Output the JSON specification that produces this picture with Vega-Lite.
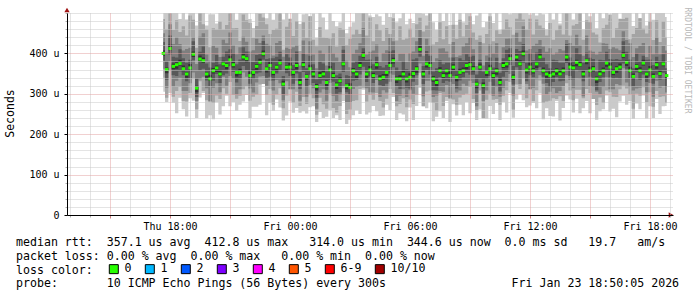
{
"$schema":"https://vega.github.io/schema/vega-lite/v6.json",
"width":606,"height":202,
"autosize":{"type":"none"},
"padding":{"left":67,"top":13,"right":24,"bottom":82},
"background":"#ffffff",
"config":{"view":{"stroke":null},"font":"DejaVu Sans Mono"},
"title":{"text":["median rtt:\u00a0\u00a0357.1 us avg\u00a0\u00a0412.8 us max\u00a0\u00a0\u00a0314.0 us min\u00a0\u00a0344.6 us now\u00a0\u00a00.0 ms sd\u00a0\u00a0\u00a019.7\u00a0\u00a0\u00a0am/s","packet loss: 0.00 % avg\u00a0\u00a00.00 % max\u00a0\u00a0\u00a00.00 % min\u00a0\u00a00.00 % now","loss color:","probe:\u00a0\u00a0\u00a0\u00a0\u00a0\u00a0\u00a010 ICMP Echo Pings (56 Bytes) every 300s\u00a0\u00a0\u00a0\u00a0\u00a0\u00a0\u00a0\u00a0\u00a0\u00a0\u00a0\u00a0\u00a0\u00a0\u00a0\u00a0\u00a0\u00a0Fri Jan 23 18:50:05 2026"],
"orient":"bottom","anchor":"start","frame":"group","dx":-51,"dy":-45,"offset":6,"font":"DejaVu Sans Mono","fontSize":11.6,"fontWeight":"normal","color":"#000000","lineHeight":13.8,"baseline":"top"},
"data":{"values":[
{"t":"2026-01-22T17:40","m":400,"a":305,"A":530,"b":340,"B":485,"c":362,"C":450,"d":382,"D":428,"e":394,"E":408,"l":"0"},
{"t":"2026-01-22T17:50","m":360,"a":280,"A":510,"b":290,"B":460,"c":315,"C":402,"d":335,"D":380,"e":351,"E":365,"l":"0"},
{"t":"2026-01-22T18:00","m":412,"a":302,"A":532,"b":357,"B":532,"c":380,"C":472,"d":397,"D":444,"e":408,"E":422,"l":"0"},
{"t":"2026-01-22T18:10","m":368,"a":278,"A":528,"b":293,"B":458,"c":318,"C":423,"d":346,"D":392,"e":361,"E":375,"l":"0"},
{"t":"2026-01-22T18:20","m":372,"a":252,"A":512,"b":307,"B":482,"c":332,"C":440,"d":344,"D":390,"e":362,"E":378,"l":"0"},
{"t":"2026-01-22T18:30","m":375,"a":290,"A":485,"b":317,"B":453,"c":340,"C":423,"d":355,"D":410,"e":370,"E":384,"l":"0"},
{"t":"2026-01-22T18:40","m":362,"a":262,"A":532,"b":282,"B":467,"c":307,"C":407,"d":346,"D":388,"e":356,"E":370,"l":"0"},
{"t":"2026-01-22T18:50","m":349,"a":244,"A":484,"b":281,"B":444,"c":307,"C":411,"d":331,"D":377,"e":340,"E":354,"l":"0"},
{"t":"2026-01-22T19:00","m":364,"a":289,"A":509,"b":302,"B":494,"c":326,"C":414,"d":339,"D":384,"e":360,"E":374,"l":"0"},
{"t":"2026-01-22T19:10","m":398,"a":283,"A":523,"b":338,"B":483,"c":353,"C":440,"d":383,"D":430,"e":391,"E":405,"l":"0"},
{"t":"2026-01-22T19:20","m":314,"a":240,"A":469,"b":262,"B":414,"c":282,"C":374,"d":292,"D":338,"e":304,"E":320,"l":"0"},
{"t":"2026-01-22T19:30","m":386,"a":291,"A":516,"b":331,"B":506,"c":336,"C":441,"d":358,"D":404,"e":381,"E":395,"l":"0"},
{"t":"2026-01-22T19:40","m":382,"a":302,"A":532,"b":307,"B":472,"c":342,"C":450,"d":362,"D":417,"e":376,"E":390,"l":"0"},
{"t":"2026-01-22T19:50","m":349,"a":239,"A":469,"b":284,"B":459,"c":314,"C":397,"d":333,"D":375,"e":340,"E":354,"l":"0"},
{"t":"2026-01-22T20:00","m":337,"a":247,"A":497,"b":279,"B":415,"c":282,"C":382,"d":319,"D":365,"e":333,"E":347,"l":"0"},
{"t":"2026-01-22T20:10","m":357,"a":237,"A":497,"b":277,"B":462,"c":315,"C":419,"d":332,"D":377,"e":350,"E":364,"l":"0"},
{"t":"2026-01-22T20:20","m":364,"a":279,"A":474,"b":296,"B":459,"c":326,"C":414,"d":349,"D":396,"e":354,"E":370,"l":"0"},
{"t":"2026-01-22T20:30","m":349,"a":249,"A":519,"b":287,"B":479,"c":304,"C":391,"d":327,"D":373,"e":344,"E":358,"l":"0"},
{"t":"2026-01-22T20:40","m":374,"a":269,"A":509,"b":314,"B":459,"c":342,"C":434,"d":346,"D":392,"e":368,"E":382,"l":"0"},
{"t":"2026-01-22T20:50","m":370,"a":295,"A":515,"b":300,"B":470,"c":320,"C":425,"d":350,"D":405,"e":361,"E":375,"l":"0"},
{"t":"2026-01-22T21:00","m":384,"a":269,"A":509,"b":329,"B":504,"c":344,"C":452,"d":368,"D":410,"e":380,"E":394,"l":"0"},
{"t":"2026-01-22T21:10","m":372,"a":280,"A":527,"b":297,"B":462,"c":337,"C":420,"d":354,"D":400,"e":365,"E":379,"l":"0"},
{"t":"2026-01-22T21:20","m":353,"a":258,"A":483,"b":288,"B":463,"c":298,"C":398,"d":328,"D":373,"e":343,"E":359,"l":"0"},
{"t":"2026-01-22T21:30","m":353,"a":273,"A":503,"b":295,"B":431,"c":311,"C":415,"d":338,"D":385,"e":348,"E":362,"l":"0"},
{"t":"2026-01-22T21:40","m":391,"a":281,"A":511,"b":311,"B":496,"c":353,"C":441,"d":369,"D":415,"e":385,"E":399,"l":"0"},
{"t":"2026-01-22T21:50","m":387,"a":297,"A":547,"b":319,"B":482,"c":342,"C":429,"d":359,"D":405,"e":378,"E":392,"l":"0"},
{"t":"2026-01-22T22:00","m":345,"a":240,"A":485,"b":283,"B":475,"c":313,"C":405,"d":325,"D":380,"e":341,"E":355,"l":"0"},
{"t":"2026-01-22T22:10","m":353,"a":268,"A":463,"b":293,"B":438,"c":303,"C":408,"d":337,"D":379,"e":346,"E":360,"l":"0"},
{"t":"2026-01-22T22:20","m":368,"a":268,"A":538,"b":298,"B":468,"c":328,"C":436,"d":350,"D":396,"e":358,"E":374,"l":"0"},
{"t":"2026-01-22T22:30","m":378,"a":273,"A":513,"b":323,"B":498,"c":343,"C":426,"d":353,"D":398,"e":373,"E":387,"l":"0"},
{"t":"2026-01-22T22:40","m":399,"a":324,"A":544,"b":324,"B":489,"c":344,"C":444,"d":384,"D":431,"e":393,"E":407,"l":"0"},
{"t":"2026-01-22T22:50","m":362,"a":247,"A":487,"b":297,"B":472,"c":320,"C":424,"d":340,"D":386,"e":353,"E":367,"l":"0"},
{"t":"2026-01-22T23:00","m":370,"a":278,"A":525,"b":312,"B":448,"c":332,"C":420,"d":342,"D":388,"e":366,"E":380,"l":"0"},
{"t":"2026-01-22T23:10","m":353,"a":258,"A":483,"b":273,"B":458,"c":308,"C":395,"d":333,"D":388,"e":346,"E":360,"l":"0"},
{"t":"2026-01-22T23:20","m":366,"a":286,"A":516,"b":298,"B":461,"c":334,"C":426,"d":350,"D":392,"e":356,"E":372,"l":"0"},
{"t":"2026-01-22T23:30","m":376,"a":266,"A":496,"b":314,"B":506,"c":326,"C":431,"d":358,"D":404,"e":371,"E":385,"l":"0"},
{"t":"2026-01-22T23:40","m":324,"a":234,"A":484,"b":264,"B":409,"c":284,"C":392,"d":299,"D":344,"e":318,"E":332,"l":"0"},
{"t":"2026-01-22T23:50","m":366,"a":246,"A":506,"b":296,"B":466,"c":331,"C":414,"d":351,"D":398,"e":357,"E":371,"l":"0"},
{"t":"2026-01-23T00:00","m":366,"a":281,"A":476,"b":311,"B":486,"c":311,"C":411,"d":344,"D":390,"e":362,"E":376,"l":"0"},
{"t":"2026-01-23T00:10","m":353,"a":253,"A":523,"b":278,"B":443,"c":311,"C":415,"d":325,"D":371,"e":346,"E":360,"l":"0"},
{"t":"2026-01-23T00:20","m":370,"a":265,"A":505,"b":305,"B":480,"c":332,"C":420,"d":350,"D":405,"e":360,"E":376,"l":"0"},
{"t":"2026-01-23T00:30","m":328,"a":253,"A":473,"b":270,"B":406,"c":283,"C":370,"d":312,"D":354,"e":323,"E":337,"l":"0"},
{"t":"2026-01-23T00:40","m":372,"a":257,"A":497,"b":292,"B":477,"c":340,"C":432,"d":354,"D":400,"e":366,"E":380,"l":"0"},
{"t":"2026-01-23T00:50","m":343,"a":251,"A":498,"b":275,"B":438,"c":293,"C":398,"d":318,"D":363,"e":334,"E":348,"l":"0"},
{"t":"2026-01-23T01:00","m":362,"a":267,"A":492,"b":300,"B":492,"c":322,"C":430,"d":347,"D":394,"e":358,"E":372,"l":"0"},
{"t":"2026-01-23T01:10","m":349,"a":269,"A":499,"b":289,"B":434,"c":314,"C":397,"d":327,"D":373,"e":342,"E":356,"l":"0"},
{"t":"2026-01-23T01:20","m":318,"a":230,"A":438,"b":248,"B":418,"c":263,"C":363,"d":290,"D":336,"e":308,"E":324,"l":"0"},
{"t":"2026-01-23T01:30","m":345,"a":255,"A":505,"b":290,"B":465,"c":303,"C":407,"d":325,"D":380,"e":340,"E":354,"l":"0"},
{"t":"2026-01-23T01:40","m":349,"a":240,"A":489,"b":274,"B":439,"c":311,"C":399,"d":333,"D":375,"e":343,"E":357,"l":"0"},
{"t":"2026-01-23T01:50","m":328,"a":243,"A":458,"b":263,"B":438,"c":283,"C":370,"d":310,"D":356,"e":319,"E":333,"l":"0"},
{"t":"2026-01-23T02:00","m":359,"a":259,"A":529,"b":301,"B":437,"c":327,"C":419,"d":334,"D":379,"e":355,"E":369,"l":"0"},
{"t":"2026-01-23T02:10","m":345,"a":240,"A":480,"b":265,"B":450,"c":295,"C":400,"d":330,"D":377,"e":338,"E":352,"l":"0"},
{"t":"2026-01-23T02:20","m":322,"a":247,"A":467,"b":254,"B":417,"c":282,"C":390,"d":300,"D":346,"e":312,"E":328,"l":"0"},
{"t":"2026-01-23T02:30","m":332,"a":235,"A":477,"b":270,"B":462,"c":297,"C":380,"d":304,"D":350,"e":327,"E":341,"l":"0"},
{"t":"2026-01-23T02:40","m":374,"a":282,"A":529,"b":314,"B":459,"c":319,"C":419,"d":354,"D":409,"e":368,"E":382,"l":"0"},
{"t":"2026-01-23T02:50","m":320,"a":225,"A":450,"b":250,"B":420,"c":278,"C":382,"d":304,"D":346,"e":311,"E":325,"l":"0"},
{"t":"2026-01-23T03:00","m":316,"a":236,"A":466,"b":261,"B":436,"c":278,"C":366,"d":298,"D":344,"e":312,"E":326,"l":"0"},
{"t":"2026-01-23T03:10","m":357,"a":247,"A":477,"b":282,"B":447,"c":312,"C":399,"d":332,"D":377,"e":350,"E":364,"l":"0"},
{"t":"2026-01-23T03:20","m":349,"a":259,"A":509,"b":284,"B":459,"c":317,"C":409,"d":334,"D":381,"e":339,"E":355,"l":"0"},
{"t":"2026-01-23T03:30","m":370,"a":250,"A":510,"b":312,"B":448,"c":320,"C":425,"d":348,"D":394,"e":365,"E":379,"l":"0"},
{"t":"2026-01-23T03:40","m":395,"a":310,"A":505,"b":315,"B":500,"c":355,"C":463,"d":367,"D":413,"e":389,"E":403,"l":"0"},
{"t":"2026-01-23T03:50","m":349,"a":249,"A":519,"b":281,"B":444,"c":314,"C":397,"d":329,"D":384,"e":340,"E":354,"l":"0"},
{"t":"2026-01-23T04:00","m":359,"a":254,"A":494,"b":297,"B":489,"c":304,"C":404,"d":343,"D":385,"e":355,"E":369,"l":"0"},
{"t":"2026-01-23T04:10","m":345,"a":270,"A":490,"b":285,"B":430,"c":303,"C":407,"d":327,"D":373,"e":338,"E":352,"l":"0"},
{"t":"2026-01-23T04:20","m":372,"a":257,"A":497,"b":302,"B":472,"c":334,"C":422,"d":347,"D":392,"e":362,"E":378,"l":"0"},
{"t":"2026-01-23T04:30","m":337,"a":245,"A":492,"b":282,"B":457,"c":292,"C":379,"d":322,"D":369,"e":332,"E":346,"l":"0"},
{"t":"2026-01-23T04:40","m":341,"a":246,"A":471,"b":266,"B":431,"c":309,"C":401,"d":319,"D":365,"e":335,"E":349,"l":"0"},
{"t":"2026-01-23T04:50","m":353,"a":273,"A":503,"b":288,"B":463,"c":303,"C":408,"d":325,"D":371,"e":344,"E":358,"l":"0"},
{"t":"2026-01-23T05:00","m":370,"a":260,"A":490,"b":312,"B":448,"c":330,"C":438,"d":350,"D":405,"e":366,"E":380,"l":"0"},
{"t":"2026-01-23T05:10","m":382,"a":292,"A":542,"b":302,"B":487,"c":347,"C":430,"d":366,"D":408,"e":375,"E":389,"l":"0"},
{"t":"2026-01-23T05:20","m":337,"a":235,"A":477,"b":269,"B":432,"c":282,"C":382,"d":319,"D":365,"e":327,"E":343,"l":"0"},
{"t":"2026-01-23T05:30","m":337,"a":252,"A":487,"b":275,"B":467,"c":295,"C":399,"d":312,"D":357,"e":332,"E":346,"l":"0"},
{"t":"2026-01-23T05:40","m":349,"a":249,"A":519,"b":289,"B":434,"c":311,"C":399,"d":334,"D":381,"e":343,"E":357,"l":"0"},
{"t":"2026-01-23T05:50","m":337,"a":232,"A":472,"b":267,"B":437,"c":292,"C":379,"d":315,"D":361,"e":328,"E":342,"l":"0"},
{"t":"2026-01-23T06:00","m":341,"a":266,"A":486,"b":286,"B":461,"c":309,"C":401,"d":313,"D":359,"e":337,"E":351,"l":"0"},
{"t":"2026-01-23T06:10","m":350,"a":235,"A":475,"b":275,"B":440,"c":300,"C":405,"d":330,"D":385,"e":343,"E":357,"l":"0"},
{"t":"2026-01-23T06:20","m":362,"a":270,"A":517,"b":297,"B":472,"c":322,"C":430,"d":346,"D":388,"e":352,"E":368,"l":"0"},
{"t":"2026-01-23T06:30","m":410,"a":315,"A":540,"b":352,"B":488,"c":375,"C":458,"d":392,"D":438,"e":405,"E":419,"l":"0"},
{"t":"2026-01-23T06:40","m":349,"a":269,"A":499,"b":269,"B":454,"c":294,"C":394,"d":324,"D":369,"e":343,"E":357,"l":"0"},
{"t":"2026-01-23T06:50","m":374,"a":264,"A":494,"b":306,"B":469,"c":332,"C":436,"d":359,"D":406,"e":365,"E":379,"l":"0"},
{"t":"2026-01-23T07:00","m":370,"a":280,"A":530,"b":308,"B":500,"c":332,"C":420,"d":348,"D":394,"e":366,"E":380,"l":"0"},
{"t":"2026-01-23T07:10","m":337,"a":232,"A":477,"b":277,"B":422,"c":292,"C":379,"d":309,"D":355,"e":330,"E":344,"l":"0"},
{"t":"2026-01-23T07:20","m":328,"a":243,"A":458,"b":258,"B":428,"c":296,"C":388,"d":308,"D":363,"e":318,"E":334,"l":"0"},
{"t":"2026-01-23T07:30","m":357,"a":257,"A":527,"b":302,"B":477,"c":307,"C":412,"d":341,"D":383,"e":352,"E":366,"l":"0"},
{"t":"2026-01-23T07:40","m":345,"a":240,"A":480,"b":270,"B":435,"c":305,"C":413,"d":327,"D":373,"e":339,"E":353,"l":"0"},
{"t":"2026-01-23T07:50","m":357,"a":282,"A":502,"b":292,"B":467,"c":322,"C":405,"d":332,"D":377,"e":348,"E":362,"l":"0"},
{"t":"2026-01-23T08:00","m":345,"a":230,"A":470,"b":287,"B":423,"c":290,"C":390,"d":330,"D":377,"e":341,"E":355,"l":"0"},
{"t":"2026-01-23T08:10","m":366,"a":274,"A":521,"b":286,"B":471,"c":324,"C":428,"d":344,"D":390,"e":359,"E":373,"l":"0"},
{"t":"2026-01-23T08:20","m":341,"a":246,"A":471,"b":273,"B":436,"c":303,"C":391,"d":313,"D":359,"e":331,"E":347,"l":"0"},
{"t":"2026-01-23T08:30","m":353,"a":273,"A":503,"b":291,"B":483,"c":308,"C":395,"d":333,"D":388,"e":348,"E":362,"l":"0"},
{"t":"2026-01-23T08:40","m":357,"a":247,"A":477,"b":297,"B":442,"c":325,"C":417,"d":341,"D":383,"e":351,"E":365,"l":"0"},
{"t":"2026-01-23T08:50","m":370,"a":280,"A":530,"b":300,"B":470,"c":320,"C":425,"d":352,"D":398,"e":361,"E":375,"l":"0"},
{"t":"2026-01-23T09:00","m":372,"a":252,"A":512,"b":317,"B":492,"c":332,"C":440,"d":347,"D":392,"e":368,"E":382,"l":"0"},
{"t":"2026-01-23T09:10","m":362,"a":277,"A":472,"b":287,"B":452,"c":327,"C":410,"d":347,"D":394,"e":355,"E":369,"l":"0"},
{"t":"2026-01-23T09:20","m":324,"a":235,"A":494,"b":259,"B":434,"c":269,"C":369,"d":302,"D":348,"e":314,"E":330,"l":"0"},
{"t":"2026-01-23T09:30","m":366,"a":261,"A":501,"b":308,"B":444,"c":324,"C":428,"d":338,"D":384,"e":361,"E":375,"l":"0"},
{"t":"2026-01-23T09:40","m":320,"a":238,"A":465,"b":240,"B":425,"c":282,"C":370,"d":300,"D":355,"e":314,"E":328,"l":"0"},
{"t":"2026-01-23T09:50","m":353,"a":238,"A":478,"b":285,"B":448,"c":308,"C":395,"d":337,"D":379,"e":344,"E":358,"l":"0"},
{"t":"2026-01-23T10:00","m":362,"a":270,"A":517,"b":300,"B":492,"c":330,"C":422,"d":344,"D":390,"e":358,"E":372,"l":"0"},
{"t":"2026-01-23T10:10","m":345,"a":250,"A":475,"b":285,"B":430,"c":295,"C":400,"d":320,"D":365,"e":338,"E":352,"l":"0"},
{"t":"2026-01-23T10:20","m":357,"a":277,"A":507,"b":287,"B":457,"c":317,"C":425,"d":342,"D":389,"e":347,"E":363,"l":"0"},
{"t":"2026-01-23T10:30","m":328,"a":235,"A":458,"b":273,"B":448,"c":293,"C":376,"d":306,"D":352,"e":323,"E":337,"l":"0"},
{"t":"2026-01-23T10:40","m":370,"a":280,"A":530,"b":295,"B":460,"c":315,"C":415,"d":342,"D":388,"e":364,"E":378,"l":"0"},
{"t":"2026-01-23T10:50","m":374,"a":254,"A":514,"b":309,"B":484,"c":332,"C":436,"d":354,"D":409,"e":365,"E":379,"l":"0"},
{"t":"2026-01-23T11:00","m":387,"a":302,"A":497,"b":329,"B":465,"c":349,"C":437,"d":371,"D":413,"e":383,"E":397,"l":"0"},
{"t":"2026-01-23T11:10","m":341,"a":241,"A":511,"b":261,"B":446,"c":296,"C":383,"d":323,"D":369,"e":334,"E":348,"l":"0"},
{"t":"2026-01-23T11:20","m":391,"a":286,"A":526,"b":323,"B":486,"c":359,"C":451,"d":366,"D":411,"e":381,"E":397,"l":"0"},
{"t":"2026-01-23T11:30","m":374,"a":299,"A":519,"b":312,"B":504,"c":324,"C":429,"d":359,"D":406,"e":369,"E":383,"l":"0"},
{"t":"2026-01-23T11:40","m":399,"a":284,"A":524,"b":339,"B":484,"c":359,"C":467,"d":377,"D":423,"e":393,"E":407,"l":"0"},
{"t":"2026-01-23T11:50","m":359,"a":267,"A":514,"b":289,"B":459,"c":324,"C":407,"d":331,"D":377,"e":350,"E":364,"l":"0"},
{"t":"2026-01-23T12:00","m":366,"a":271,"A":496,"b":311,"B":486,"c":311,"C":411,"d":346,"D":401,"e":362,"E":376,"l":"0"},
{"t":"2026-01-23T12:10","m":357,"a":277,"A":507,"b":282,"B":447,"c":315,"C":419,"d":341,"D":383,"e":350,"E":364,"l":"0"},
{"t":"2026-01-23T12:20","m":374,"a":264,"A":494,"b":309,"B":484,"c":336,"C":424,"d":356,"D":402,"e":364,"E":380,"l":"0"},
{"t":"2026-01-23T12:30","m":391,"a":301,"A":551,"b":333,"B":469,"c":346,"C":433,"d":366,"D":411,"e":386,"E":400,"l":"0"},
{"t":"2026-01-23T12:40","m":357,"a":237,"A":497,"b":277,"B":462,"c":325,"C":417,"d":342,"D":389,"e":351,"E":365,"l":"0"},
{"t":"2026-01-23T12:50","m":349,"a":264,"A":459,"b":281,"B":444,"c":299,"C":404,"d":327,"D":373,"e":340,"E":354,"l":"0"},
{"t":"2026-01-23T13:00","m":345,"a":245,"A":515,"b":283,"B":475,"c":305,"C":413,"d":317,"D":363,"e":341,"E":355,"l":"0"},
{"t":"2026-01-23T13:10","m":349,"a":244,"A":484,"b":289,"B":434,"c":314,"C":397,"d":329,"D":384,"e":342,"E":356,"l":"0"},
{"t":"2026-01-23T13:20","m":357,"a":282,"A":502,"b":287,"B":457,"c":302,"C":402,"d":341,"D":383,"e":347,"E":363,"l":"0"},
{"t":"2026-01-23T13:30","m":349,"a":234,"A":474,"b":294,"B":469,"c":307,"C":411,"d":331,"D":377,"e":344,"E":358,"l":"0"},
{"t":"2026-01-23T13:40","m":357,"a":265,"A":512,"b":282,"B":447,"c":319,"C":407,"d":332,"D":377,"e":351,"E":365,"l":"0"},
{"t":"2026-01-23T13:50","m":391,"a":296,"A":521,"b":326,"B":501,"c":346,"C":433,"d":376,"D":423,"e":382,"E":396,"l":"0"},
{"t":"2026-01-23T14:00","m":366,"a":286,"A":516,"b":308,"B":444,"c":334,"C":426,"d":344,"D":390,"e":362,"E":376,"l":"0"},
{"t":"2026-01-23T14:10","m":364,"a":254,"A":484,"b":284,"B":469,"c":314,"C":419,"d":336,"D":382,"e":357,"E":371,"l":"0"},
{"t":"2026-01-23T14:20","m":378,"a":288,"A":538,"b":310,"B":473,"c":338,"C":446,"d":358,"D":413,"e":368,"E":384,"l":"0"},
{"t":"2026-01-23T14:30","m":372,"a":252,"A":512,"b":310,"B":502,"c":337,"C":420,"d":356,"D":398,"e":367,"E":381,"l":"0"},
{"t":"2026-01-23T14:40","m":349,"a":264,"A":459,"b":289,"B":434,"c":294,"C":394,"d":331,"D":377,"e":343,"E":357,"l":"0"},
{"t":"2026-01-23T14:50","m":382,"a":282,"A":552,"b":312,"B":482,"c":340,"C":444,"d":357,"D":402,"e":373,"E":387,"l":"0"},
{"t":"2026-01-23T15:00","m":357,"a":252,"A":492,"b":302,"B":477,"c":319,"C":407,"d":342,"D":389,"e":353,"E":367,"l":"0"},
{"t":"2026-01-23T15:10","m":362,"a":287,"A":507,"b":287,"B":452,"c":317,"C":404,"d":340,"D":386,"e":355,"E":369,"l":"0"},
{"t":"2026-01-23T15:20","m":337,"a":236,"A":462,"b":272,"B":447,"c":305,"C":397,"d":309,"D":355,"e":327,"E":343,"l":"0"},
{"t":"2026-01-23T15:30","m":349,"a":257,"A":504,"b":291,"B":427,"c":299,"C":404,"d":329,"D":384,"e":344,"E":358,"l":"0"},
{"t":"2026-01-23T15:40","m":357,"a":262,"A":487,"b":277,"B":462,"c":317,"C":425,"d":341,"D":383,"e":351,"E":365,"l":"0"},
{"t":"2026-01-23T15:50","m":376,"a":296,"A":526,"b":308,"B":471,"c":341,"C":424,"d":358,"D":404,"e":367,"E":381,"l":"0"},
{"t":"2026-01-23T16:00","m":366,"a":256,"A":486,"b":304,"B":496,"c":311,"C":411,"d":341,"D":386,"e":362,"E":376,"l":"0"},
{"t":"2026-01-23T16:10","m":353,"a":263,"A":513,"b":293,"B":438,"c":311,"C":415,"d":338,"D":385,"e":346,"E":360,"l":"0"},
{"t":"2026-01-23T16:20","m":362,"a":242,"A":502,"b":292,"B":462,"c":324,"C":412,"d":340,"D":386,"e":352,"E":368,"l":"0"},
{"t":"2026-01-23T16:30","m":366,"a":281,"A":476,"b":311,"B":486,"c":321,"C":408,"d":338,"D":384,"e":361,"E":375,"l":"0"},
{"t":"2026-01-23T16:40","m":395,"a":295,"A":565,"b":320,"B":485,"c":363,"C":455,"d":375,"D":430,"e":389,"E":403,"l":"0"},
{"t":"2026-01-23T16:50","m":378,"a":273,"A":513,"b":313,"B":488,"c":328,"C":433,"d":362,"D":404,"e":369,"E":383,"l":"0"},
{"t":"2026-01-23T17:00","m":357,"a":282,"A":502,"b":299,"B":435,"c":317,"C":425,"d":339,"D":385,"e":353,"E":367,"l":"0"},
{"t":"2026-01-23T17:10","m":343,"a":238,"A":468,"b":263,"B":448,"c":308,"C":391,"d":318,"D":363,"e":336,"E":350,"l":"0"},
{"t":"2026-01-23T17:20","m":368,"a":276,"A":523,"b":300,"B":463,"c":313,"C":413,"d":353,"D":400,"e":358,"E":374,"l":"0"},
{"t":"2026-01-23T17:30","m":357,"a":262,"A":487,"b":295,"B":487,"c":315,"C":419,"d":335,"D":381,"e":352,"E":366,"l":"0"},
{"t":"2026-01-23T17:40","m":376,"a":296,"A":526,"b":316,"B":461,"c":338,"C":426,"d":348,"D":394,"e":370,"E":384,"l":"0"},
{"t":"2026-01-23T17:50","m":349,"a":239,"A":469,"b":279,"B":449,"c":304,"C":391,"d":329,"D":384,"e":340,"E":354,"l":"0"},
{"t":"2026-01-23T18:00","m":359,"a":269,"A":519,"b":304,"B":479,"c":327,"C":419,"d":343,"D":385,"e":355,"E":369,"l":"0"},
{"t":"2026-01-23T18:10","m":343,"a":240,"A":483,"b":268,"B":433,"c":293,"C":398,"d":325,"D":371,"e":336,"E":350,"l":"0"},
{"t":"2026-01-23T18:20","m":372,"a":287,"A":502,"b":307,"B":482,"c":332,"C":440,"d":347,"D":392,"e":362,"E":378,"l":"0"},
{"t":"2026-01-23T18:30","m":350,"a":250,"A":520,"b":292,"B":428,"c":315,"C":398,"d":335,"D":382,"e":345,"E":359,"l":"0"},
{"t":"2026-01-23T18:40","m":374,"a":269,"A":509,"b":294,"B":479,"c":319,"C":419,"d":352,"D":398,"e":368,"E":382,"l":"0"},
{"t":"2026-01-23T18:50","m":345,"a":270,"A":490,"b":277,"B":440,"c":303,"C":407,"d":317,"D":363,"e":336,"E":350,"l":"0"}
]},
"layer":[
 {"mark":{"type":"area","interpolate":"step","color":"#cacaca","clip":true,"opacity":1},
  "encoding":{
   "x":{"field":"t","type":"temporal",
    "scale":{"domain":[{"year":2026,"month":1,"date":22,"hours":12,"minutes":51},{"year":2026,"month":1,"date":23,"hours":19,"minutes":9}]},
    "axis":{"orient":"bottom","title":null,"labels":false,"domain":false,"ticks":true,"tickSize":2,"tickColor":"#b0b0b0",
     "values":[{"year":2026,"month":1,"date":22,"hours":13},{"year":2026,"month":1,"date":22,"hours":14},{"year":2026,"month":1,"date":22,"hours":16},{"year":2026,"month":1,"date":22,"hours":17},{"year":2026,"month":1,"date":22,"hours":19},{"year":2026,"month":1,"date":22,"hours":20},{"year":2026,"month":1,"date":22,"hours":22},{"year":2026,"month":1,"date":22,"hours":23},{"year":2026,"month":1,"date":23,"hours":1},{"year":2026,"month":1,"date":23,"hours":2},{"year":2026,"month":1,"date":23,"hours":4},{"year":2026,"month":1,"date":23,"hours":5},{"year":2026,"month":1,"date":23,"hours":7},{"year":2026,"month":1,"date":23,"hours":8},{"year":2026,"month":1,"date":23,"hours":10},{"year":2026,"month":1,"date":23,"hours":11},{"year":2026,"month":1,"date":23,"hours":13},{"year":2026,"month":1,"date":23,"hours":14},{"year":2026,"month":1,"date":23,"hours":16},{"year":2026,"month":1,"date":23,"hours":17},{"year":2026,"month":1,"date":23,"hours":19}],
     "grid":true,"gridColor":"#c8c8c8","gridDash":[1,1],"gridWidth":1,"zindex":1}},
   "y":{"field":"a","type":"quantitative","scale":{"domain":[0,500],"nice":false,"zero":true},
    "axis":{"orient":"left","title":null,"labels":false,"domain":false,"ticks":true,"tickSize":2,"tickColor":"#b0b0b0",
     "values":[20,40,60,80,120,140,160,180,220,240,260,280,320,340,360,380,420,440,460,480,500],
     "grid":true,"gridColor":"#c8c8c8","gridDash":[1,1],"gridWidth":1,"zindex":1}},
   "y2":{"field":"A"}}},
 {"mark":{"type":"area","interpolate":"step","color":"#a4a4a4","clip":true,"opacity":1},
  "encoding":{
   "x":{"field":"t","type":"temporal",
    "axis":{"orient":"bottom","title":null,
     "values":[{"year":2026,"month":1,"date":22,"hours":15},{"year":2026,"month":1,"date":22,"hours":18},{"year":2026,"month":1,"date":22,"hours":21},{"year":2026,"month":1,"date":23,"hours":0},{"year":2026,"month":1,"date":23,"hours":3},{"year":2026,"month":1,"date":23,"hours":6},{"year":2026,"month":1,"date":23,"hours":9},{"year":2026,"month":1,"date":23,"hours":12},{"year":2026,"month":1,"date":23,"hours":15},{"year":2026,"month":1,"date":23,"hours":18}],
     "labelExpr":"hours(datum.value) % 6 == 0 ? timeFormat(datum.value, '%a %H:%M') : ''",
     "labelFont":"DejaVu Sans Mono","labelFontSize":10,"labelColor":"#000000","labelPadding":3,"labelOverlap":false,"labelFlush":false,
     "ticks":true,"tickSize":3,"tickColor":"#d08080","domain":true,"domainColor":"#000000","domainWidth":1,
     "grid":true,"gridColor":"#e3a0a0","gridDash":[1,1],"gridWidth":1,"zindex":2}},
   "y":{"field":"b","type":"quantitative",
    "axis":{"orient":"left","values":[0,100,200,300,400],
     "labelExpr":"datum.value == 0 ? '0' : datum.value + ' u'",
     "labelFont":"DejaVu Sans Mono","labelFontSize":10,"labelColor":"#000000","labelPadding":5,"labelOverlap":false,"labelFlush":false,
     "ticks":true,"tickSize":3,"tickColor":"#000000","domain":true,"domainColor":"#000000","domainWidth":1,
     "grid":true,"gridColor":"#e3a0a0","gridDash":[1,1],"gridWidth":1,
     "title":"Seconds","titleFont":"DejaVu Sans Mono","titleFontSize":11.5,"titleFontWeight":"normal","titleColor":"#000000","titleAngle":270,"titleX":-57,"titleY":100,"titleAlign":"center","titleBaseline":"middle","zindex":2}},
   "y2":{"field":"B"}}},
 {"mark":{"type":"area","interpolate":"step","color":"#7e7e7e","clip":true,"opacity":1},
  "encoding":{"x":{"field":"t","type":"temporal","axis":null},"y":{"field":"c","type":"quantitative","axis":null},"y2":{"field":"C"}}},
 {"mark":{"type":"area","interpolate":"step","color":"#585858","clip":true,"opacity":1},
  "encoding":{"x":{"field":"t","type":"temporal","axis":null},"y":{"field":"d","type":"quantitative","axis":null},"y2":{"field":"D"}}},
 {"mark":{"type":"area","interpolate":"step","color":"#323232","clip":true,"opacity":1},
  "encoding":{"x":{"field":"t","type":"temporal","axis":null},"y":{"field":"e","type":"quantitative","axis":null},"y2":{"field":"E"}}},
 {"mark":{"type":"tick","orient":"horizontal","size":3.4,"thickness":3,"opacity":1,"clip":true},
  "encoding":{"x":{"field":"t","type":"temporal","axis":null},
   "y":{"field":"m","type":"quantitative",
    "axis":{"orient":"right","labels":false,"ticks":false,"domain":false,"grid":false,"title":"RRDTOOL / TOBI OETIKER","titleFont":"DejaVu Sans Mono","titleFontSize":8,"titleFontWeight":"normal","titleColor":"#b8b8b8","titleAngle":90,"titleX":13,"titleY":47,"titleAlign":"center","titleBaseline":"middle"}},
   "color":{"field":"l","type":"nominal",
    "scale":{"domain":["0","1","2","3","4","5","6-9","10/10"],"range":["#26ff00","#00b8ff","#0059ff","#7e00ff","#ff00ff","#ff5500","#ff0000","#a10000"]},
    "legend":{"orient":"none","legendX":41,"legendY":250,"direction":"horizontal","columns":8,"gridAlign":"each","title":null,"padding":0,
     "symbolType":"square","symbolSize":81,"symbolStrokeColor":"#000000","symbolStrokeWidth":1,"symbolOpacity":1,
     "labelFont":"DejaVu Sans Mono","labelFontSize":11.6,"labelColor":"#000000","labelOffset":5,"columnPadding":11}}}},
 {"data":{"values":[{}]},
  "mark":{"type":"point","shape":"triangle-up","filled":true,"color":"#a01414","size":28,"opacity":1,"yOffset":-3},
  "encoding":{"x":{"datum":{"year":2026,"month":1,"date":22,"hours":12,"minutes":51},"type":"temporal","axis":null},"y":{"datum":500,"type":"quantitative","axis":null}}},
 {"data":{"values":[{}]},
  "mark":{"type":"point","shape":"triangle-right","filled":true,"color":"#a01414","size":28,"opacity":1,"xOffset":-2},
  "encoding":{"x":{"datum":{"year":2026,"month":1,"date":23,"hours":19,"minutes":9},"type":"temporal","axis":null},"y":{"datum":0,"type":"quantitative","axis":null}}}
],
"resolve":{"axis":{"x":"independent","y":"independent"}}
}
